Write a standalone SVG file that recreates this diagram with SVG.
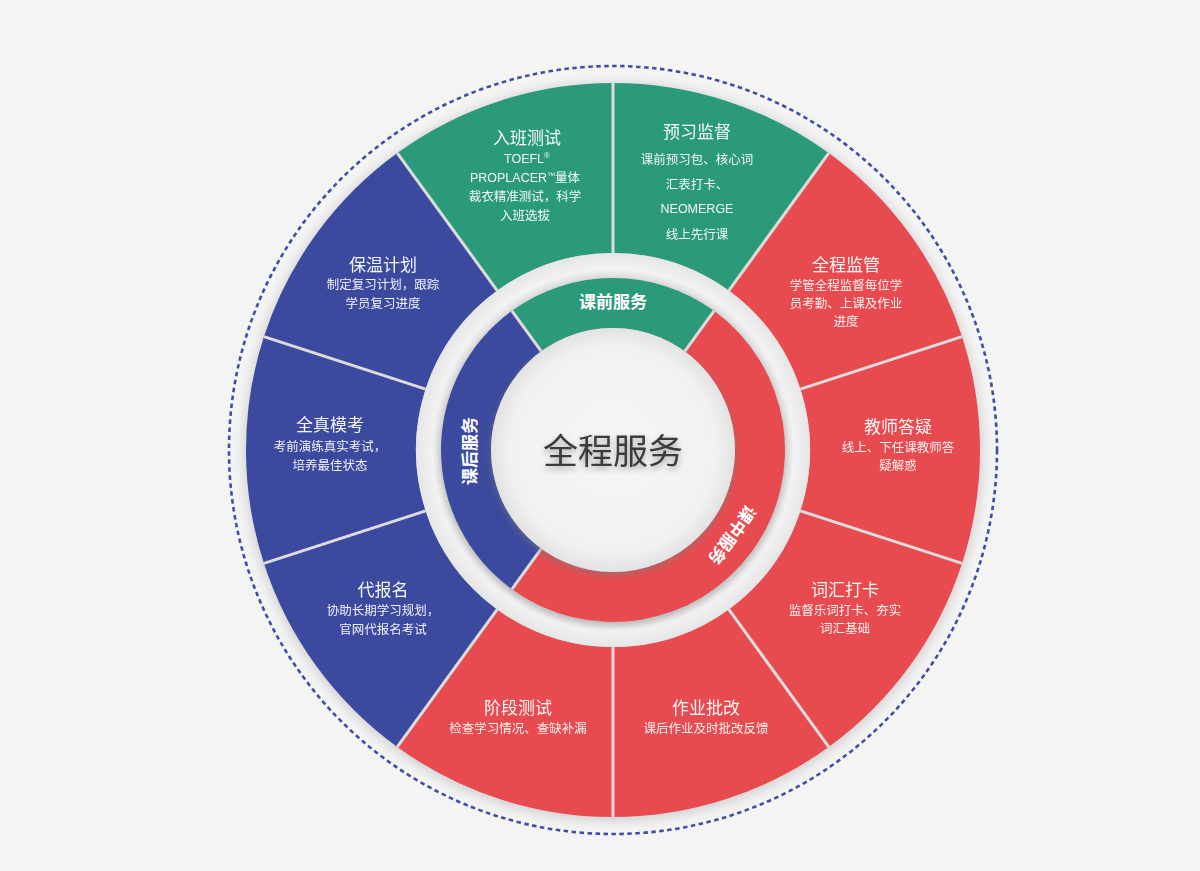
<svg xmlns="http://www.w3.org/2000/svg" width="1200" height="871" viewBox="0 0 1200 871">
<defs>
<style>
.t{font-family:"Liberation Sans","Noto Sans CJK SC",sans-serif;fill:#ffffff;text-anchor:middle}
.h{font-size:17px;opacity:0.95}
.b{font-size:12.5px;opacity:0.93}
.ring{font-family:"Noto Sans CJK SC",sans-serif;font-weight:bold;font-size:17px;fill:#ffffff;text-anchor:middle}
.sep{stroke:#dcdcdc;stroke-width:3}
.teal{fill:#2b9a7b}
.red{fill:#e84b4f}
.blue{fill:#3b4a9e}
</style>
<filter id="blur6" x="-20%" y="-20%" width="140%" height="140%"><feGaussianBlur stdDeviation="6"/></filter>
<filter id="blur3" x="-20%" y="-20%" width="140%" height="140%"><feGaussianBlur stdDeviation="3"/></filter>
<filter id="tshadow" x="-20%" y="-50%" width="140%" height="200%"><feGaussianBlur in="SourceAlpha" stdDeviation="3"/><feOffset dx="0" dy="3"/><feComponentTransfer><feFuncA type="linear" slope="0.35"/></feComponentTransfer><feMerge><feMergeNode/><feMergeNode in="SourceGraphic"/></feMerge></filter>
<radialGradient id="cg" cx="50%" cy="50%" r="50%"><stop offset="0" stop-color="#f6f6f6"/><stop offset="0.85" stop-color="#f1f1f1"/><stop offset="1" stop-color="#e2e2e2"/></radialGradient>
<radialGradient id="bandg" cx="50%" cy="50%" r="50%"><stop offset="0.86" stop-color="#d8d8d8"/><stop offset="0.92" stop-color="#f2f2f2"/><stop offset="1" stop-color="#e6e6e6"/></radialGradient>
</defs>
<rect width="1200" height="871" fill="#f4f4f4"/>
<circle cx="613" cy="450" r="384" fill="none" stroke="#3f4ea3" stroke-width="2.6" stroke-dasharray="4.5 3.5"/>
<circle cx="613" cy="452" r="369" fill="#cfcfcf" filter="url(#blur6)"/>
<g id="outer-ring">
<g id="seg-yuxi"><path class="teal" d="M613 83 A367 367 0 0 1 828.717 153.091 L728.794 290.624 A197 197 0 0 0 613 253 Z"/>
<text class="t h" x="697" y="138">预习监督</text>
<text class="t b" x="697" y="164">课前预习包、核心词</text>
<text class="t b" x="697" y="189">汇表打卡、</text>
<text class="t b" x="697" y="213">NEOMERGE</text>
<text class="t b" x="697" y="239">线上先行课</text></g>
<g id="seg-quancheng"><path class="red" d="M828.717 153.091 A367 367 0 0 1 962.038 336.591 L800.358 389.124 A197 197 0 0 0 728.794 290.624 Z"/>
<text class="t h" x="846" y="271">全程监管</text>
<text class="t b" x="846" y="290">学管全程监督每位学</text>
<text class="t b" x="846" y="308">员考勤、上课及作业</text>
<text class="t b" x="846" y="326">进度</text></g>
<g id="seg-dayi"><path class="red" d="M962.038 336.591 A367 367 0 0 1 962.038 563.409 L800.358 510.876 A197 197 0 0 0 800.358 389.124 Z"/>
<text class="t h" x="898" y="433">教师答疑</text>
<text class="t b" x="898" y="452">线上、下任课教师答</text>
<text class="t b" x="898" y="470">疑解惑</text></g>
<g id="seg-cihui"><path class="red" d="M962.038 563.409 A367 367 0 0 1 828.717 746.909 L728.794 609.376 A197 197 0 0 0 800.358 510.876 Z"/>
<text class="t h" x="845" y="596">词汇打卡</text>
<text class="t b" x="845" y="615">监督乐词打卡、夯实</text>
<text class="t b" x="845" y="633">词汇基础</text></g>
<g id="seg-zuoye"><path class="red" d="M828.717 746.909 A367 367 0 0 1 613 817 L613 647 A197 197 0 0 0 728.794 609.376 Z"/>
<text class="t h" x="706" y="714">作业批改</text>
<text class="t b" x="706" y="733">课后作业及时批改反馈</text></g>
<g id="seg-jieduan"><path class="red" d="M613 817 A367 367 0 0 1 397.283 746.909 L497.206 609.376 A197 197 0 0 0 613 647 Z"/>
<text class="t h" x="518" y="714">阶段测试</text>
<text class="t b" x="518" y="733">检查学习情况、查缺补漏</text></g>
<g id="seg-baoming"><path class="blue" d="M397.283 746.909 A367 367 0 0 1 263.962 563.409 L425.642 510.876 A197 197 0 0 0 497.206 609.376 Z"/>
<text class="t h" x="383" y="596">代报名</text>
<text class="t b" x="383" y="615">协助长期学习规划，</text>
<text class="t b" x="383" y="634">官网代报名考试</text></g>
<g id="seg-mokao"><path class="blue" d="M263.962 563.409 A367 367 0 0 1 263.962 336.591 L425.642 389.124 A197 197 0 0 0 425.642 510.876 Z"/>
<text class="t h" x="330" y="431">全真模考</text>
<text class="t b" x="330" y="451">考前演练真实考试，</text>
<text class="t b" x="330" y="470">培养最佳状态</text></g>
<g id="seg-baowen"><path class="blue" d="M263.962 336.591 A367 367 0 0 1 397.283 153.091 L497.206 290.624 A197 197 0 0 0 425.642 389.124 Z"/>
<text class="t h" x="383" y="271">保温计划</text>
<text class="t b" x="383" y="289">制定复习计划，跟踪</text>
<text class="t b" x="383" y="308">学员复习进度</text></g>
<g id="seg-ruban"><path class="teal" d="M397.283 153.091 A367 367 0 0 1 613 83 L613 253 A197 197 0 0 0 497.206 290.624 Z"/>
<text class="t h" x="527" y="144">入班测试</text>
<text class="t b" x="527" y="163">TOEFL<tspan font-size="8" dy="-5">®</tspan></text>
<text class="t b" x="525" y="182">PROPLACER<tspan font-size="8" dy="-4">™</tspan><tspan dy="4">量体</tspan></text>
<text class="t b" x="525" y="201">裁衣精准测试，科学</text>
<text class="t b" x="525" y="220">入班选拔</text></g>
</g>
<g id="connectors">
<line class="sep" x1="613" y1="83" x2="613" y2="253"/>
<line class="sep" x1="828.717" y1="153.091" x2="728.794" y2="290.624"/>
<line class="sep" x1="962.038" y1="336.591" x2="800.358" y2="389.124"/>
<line class="sep" x1="962.038" y1="563.409" x2="800.358" y2="510.876"/>
<line class="sep" x1="828.717" y1="746.909" x2="728.794" y2="609.376"/>
<line class="sep" x1="613" y1="817" x2="613" y2="647"/>
<line class="sep" x1="397.283" y1="746.909" x2="497.206" y2="609.376"/>
<line class="sep" x1="263.962" y1="563.409" x2="425.642" y2="510.876"/>
<line class="sep" x1="263.962" y1="336.591" x2="425.642" y2="389.124"/>
<line class="sep" x1="397.283" y1="153.091" x2="497.206" y2="290.624"/>
</g>
<circle cx="613" cy="450" r="197" fill="url(#bandg)"/>
<circle cx="613" cy="453" r="173" fill="#9a9a9a" opacity="0.5" filter="url(#blur3)"/>
<g id="inner-ring">
<g id="ring-kqian"><path class="teal" d="M511.901 310.849 A172 172 0 0 1 714.099 310.849 L684.710 351.300 A122 122 0 0 0 541.290 351.300 Z"/>
<text class="ring" x="613" y="308">课前服务</text></g>
<g id="ring-kzhong"><path class="red" d="M714.099 310.849 A172 172 0 0 1 752.151 551.099 A172 172 0 0 1 511.901 589.151 L541.290 548.700 A122 122 0 0 0 711.700 521.710 A122 122 0 0 0 684.710 351.300 Z"/>
<text class="ring" transform="translate(732 535) rotate(125.5)" x="0" y="6">课中服务</text></g>
<g id="ring-khou"><path class="blue" d="M511.901 589.151 A172 172 0 0 1 511.901 310.849 L541.290 351.300 A122 122 0 0 0 541.290 548.700 Z"/>
<text class="ring" transform="translate(470 451) rotate(-90)" x="0" y="6">课后服务</text></g>
<line class="sep" x1="714.099" y1="310.849" x2="684.710" y2="351.300"/>
<line class="sep" x1="511.901" y1="310.849" x2="541.290" y2="351.300"/>
<line class="sep" x1="511.901" y1="589.151" x2="541.290" y2="548.700"/>
</g>
<g id="center">
<circle cx="613" cy="453" r="123" fill="#7a7a7a" opacity="0.45" filter="url(#blur3)"/>
<circle cx="613" cy="450" r="122" fill="url(#cg)"/>
<text x="613" y="464" filter="url(#tshadow)" style="font-family:'Noto Sans CJK SC',sans-serif;font-size:35px;fill:#3a3a3a;text-anchor:middle">全程服务</text>
</g>
</svg>
